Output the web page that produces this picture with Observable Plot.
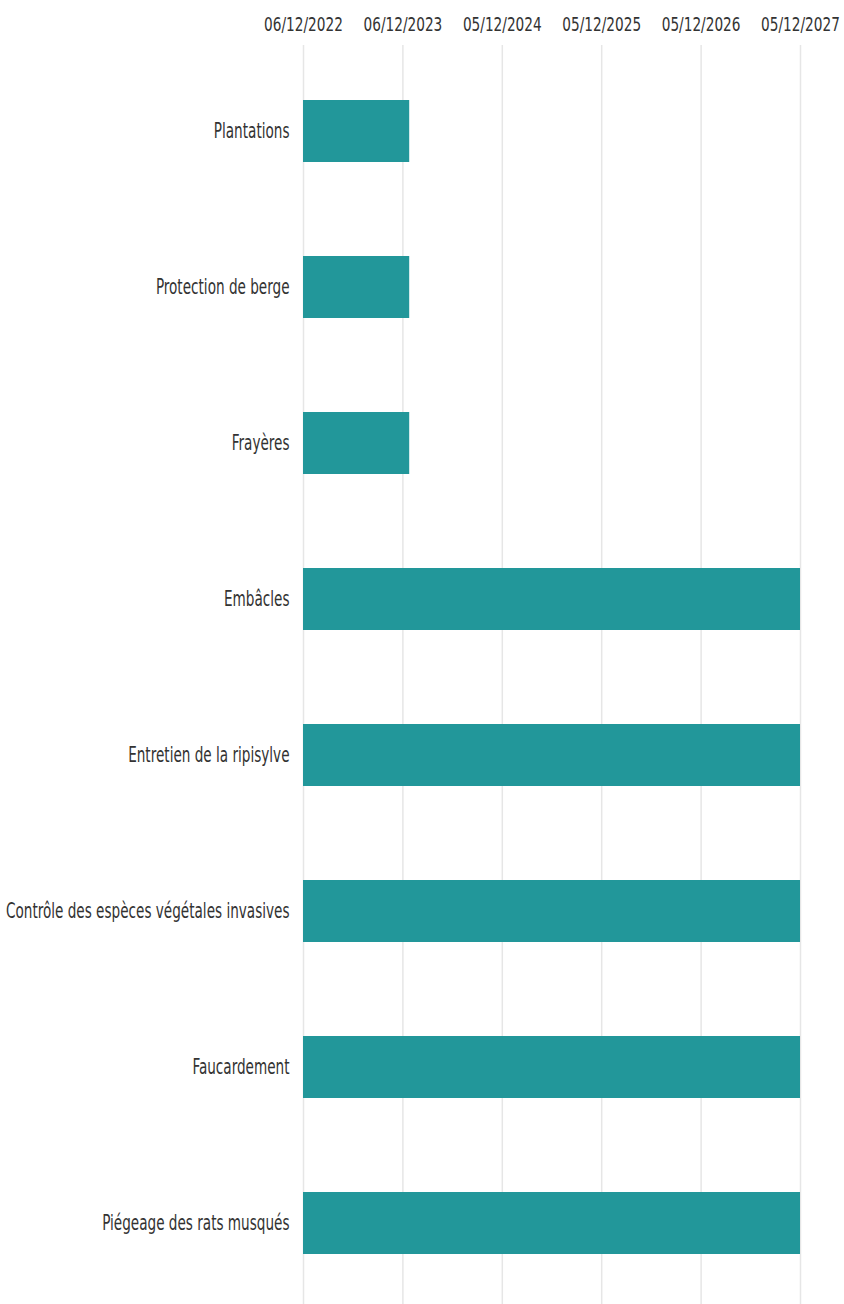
<!DOCTYPE html>
<html><head><meta charset="utf-8">
<style>body{margin:0;background:#fff} svg{display:block}</style>
<script src="https://cdn.jsdelivr.net/npm/d3@7"></script>
<script src="https://cdn.jsdelivr.net/npm/@observablehq/plot@0.6"></script>
</head><body><div id="chart"></div>
<script>
const tasks = ["Plantations","Protection de berge","Frayères","Embâcles","Entretien de la ripisylve","Contrôle des espèces végétales invasives","Faucardement","Piégeage des rats musqués"];
const startDates = ["2022-12-06","2022-12-06","2022-12-06","2022-12-06","2022-12-06","2022-12-06","2022-12-06","2022-12-06"];
const endDates = ["2023-12-31","2023-12-31","2023-12-31","2027-12-05","2027-12-05","2027-12-05","2027-12-05","2027-12-05"];
const tickDates = ["2022-12-06","2023-12-06","2024-12-05","2025-12-05","2026-12-05","2027-12-05"];

const data = tasks.map((t, i) => ({task: t, start: new Date(startDates[i]), end: new Date(endDates[i])}));
const ticks = tickDates.map(d => new Date(d));
const fmt = d3.utcFormat("%d/%m/%Y");

const chart = Plot.plot({
  width: 844, height: 1304,
  marginTop: 51, marginBottom: 0, marginLeft: 303, marginRight: 44,
  x: {type: "utc", domain: [ticks[0], ticks[ticks.length - 1]]},
  y: {domain: tasks, paddingInner: 0.6, paddingOuter: 0.3},
  style: {fontFamily: "'DejaVu Sans Condensed', 'DejaVu Sans', sans-serif", fontSize: "21px", color: "#333", background: "#fff"},
  marks: [
    Plot.ruleX(ticks, {stroke: "#e6e6e6", strokeWidth: 1.5, insetTop: -6}),
    Plot.barX(data, {y: "task", x1: "start", x2: "end", fill: "#22979a"}),
    Plot.axisX({anchor: "top", ticks: ticks, tickFormat: fmt, tickSize: 0, tickPadding: 21, label: null, fontSize: 20}),
    Plot.axisY({tickSize: 0, tickPadding: 14, label: null})
  ]
});

// condense text horizontally to match the narrow typeface of the original
function condense(sel, s) {
  chart.querySelectorAll(sel + " text").forEach(t => {
    const tr = t.getAttribute("transform");
    if (tr) {
      t.setAttribute("transform", tr + ` scale(${s},1)`);
    } else {
      const x = +t.getAttribute("x") || 0, y = +t.getAttribute("y") || 0;
      t.removeAttribute("x"); t.removeAttribute("y");
      t.setAttribute("transform", `translate(${x},${y}) scale(${s},1)`);
    }
  });
}
condense('g[aria-label="x-axis tick label"]', 0.76);
condense('g[aria-label="y-axis tick label"]', 0.72);
document.getElementById("chart").append(chart);
</script></body></html>
